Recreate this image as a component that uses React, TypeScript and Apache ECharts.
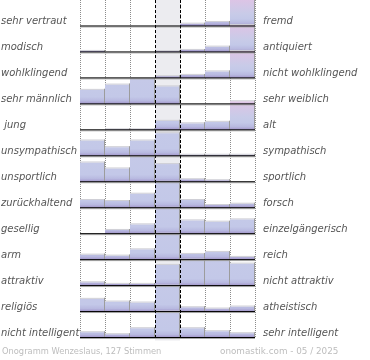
import React, { useEffect, useRef } from "react";
import * as echarts from "echarts";

// ---- data ----
const leftLabels = [
  "sehr vertraut", "modisch", "wohlklingend", "sehr männlich", " jung",
  "unsympathisch", "unsportlich", "zurückhaltend", "gesellig", "arm",
  "attraktiv", "religiös", "nicht intelligent",
];
const rightLabels = [
  "fremd", "antiquiert", "nicht wohlklingend", "sehr weiblich", "alt",
  "sympathisch", "sportlich", "forsch", "einzelgängerisch", "reich",
  "nicht attraktiv", "atheistisch", "sehr intelligent",
];
// seven-step scale, share of votes per step (row band = 26)
const vertrautFremd = [0, 0, 0, 0, 2.3, 4, 27];
const modischAntiquiert = [1, 0, 0, 0.8, 2, 5.3, 27];
const wohlklingend = [0, 0, 0, 1.7, 3, 6.5, 27];
const maennlichWeiblich = [14, 19.3, 25, 17.5, 0, 0, 0];
const jungAlt = [0, 0.5, 0.5, 9, 6.5, 8, 28.6];
const sympathie = [15.3, 8.6, 15.3, 22.6, 1, 1, 1];
const sportlichkeit = [19.3, 13.3, 25, 17.7, 2.5, 1.5, 0];
const zurueckhaltendForsch = [7.7, 6.7, 14, 26, 7.7, 2.7, 4];
const geselligEinzel = [0, 3.7, 9.3, 26, 13.3, 12, 14.3];
const armReich = [5, 4, 10.3, 26, 5.7, 7.7, 2.7];
const attraktivitaet = [3.3, 1.7, 1.7, 20.7, 26, 25, 22];
const religioesAtheistisch = [12.7, 10, 9, 26, 4.3, 3, 5];
const intelligenz = [5.3, 3.3, 9.3, 26, 9.3, 6.3, 4.3];
const footerLeft = "Onogramm Wenzeslaus, 127 Stimmen";
const footerRight = "onomastik.com - 05 / 2025";

const rows = [
  vertrautFremd, modischAntiquiert, wohlklingend, maennlichWeiblich, jungAlt,
  sympathie, sportlichkeit, zurueckhaltendForsch, geselligEinzel, armReich,
  attraktivitaet, religioesAtheistisch, intelligenz,
];
const ROW_UNIT = 26;
const STEPS = 7;

function hexToRgb(h: string) {
  const n = parseInt(h.slice(1), 16);
  return [(n >> 16) & 255, (n >> 8) & 255, n & 255];
}
function lerp(a: string, b: string, t: number) {
  const A = hexToRgb(a), B = hexToRgb(b);
  const c = A.map((v, i) => Math.round(v + (B[i] - v) * t));
  return "#" + c.map((v) => v.toString(16).padStart(2, "0")).join("");
}
function colorAt(stops: [number, string][], d: number) {
  if (d <= stops[0][0]) return stops[0][1];
  for (let i = 1; i < stops.length; i++) {
    if (d <= stops[i][0]) {
      const [d0, c0] = stops[i - 1];
      const [d1, c1] = stops[i];
      return lerp(c0, c1, (d - d0) / (d1 - d0 || 1));
    }
  }
  return stops[stops.length - 1][1];
}
function barGradient(h: number, tall: boolean) {
  const base: [number, string][] = [
    [0, "#a093c8"],
    [3, "#b8b9e0"],
    [7, "#c3c8e8"],
  ];
  const stops: [number, string][] = tall
    ? [...base, [h * 0.45, "#c8cbe8"], [h, "#dec4e5"]]
    : [...base, [60, "#c8cce9"]];
  const out: { offset: number; color: string }[] = [];
  out.push({ offset: 0, color: colorAt(stops, h) });
  stops
    .filter((s) => s[0] < h)
    .forEach((s) => out.push({ offset: 1 - s[0] / h, color: colorAt(stops, s[0]) }));
  out.sort((a, b) => a.offset - b.offset);
  return new echarts.graphic.LinearGradient(0, 0, 0, 1, out);
}

export default function App() {
  const ref = useRef<HTMLDivElement>(null);
  useEffect(() => {
    if (!ref.current) return;
    const chart = echarts.init(ref.current, undefined, { renderer: "svg" });
    const barData: number[][] = [];
    rows.forEach((vals, r) => vals.forEach((v, c) => barData.push([c, r, v])));
    const font = "DejaVu Sans";
    chart.setOption({
      animation: false,
      grid: { left: 80, top: -0.5, width: 175, height: 338 },
      xAxis: {
        type: "value", min: 0, max: STEPS, interval: 1,
        axisLine: { show: false }, axisTick: { show: false }, axisLabel: { show: false },
        splitLine: { show: true, lineStyle: { color: "#8c8c8c", type: [1, 1], width: 1 } },
      },
      yAxis: {
        type: "value", min: 0, max: rows.length, inverse: true,
        axisLine: { show: false }, axisTick: { show: false }, axisLabel: { show: false },
        splitLine: { show: false },
      },
      series: [
        {
          type: "custom", z: 1, silent: true,
          data: [[3, 0]],
          renderItem: (p: any, api: any) => {
            const a = api.coord([api.value(0), 0]);
            const b = api.coord([api.value(0) + 1, rows.length]);
            return {
              type: "rect",
              shape: { x: a[0], y: 0, width: b[0] - a[0], height: b[1] + 3 },
              style: { fill: "#ececf0" },
            };
          },
        },
        {
          type: "custom", z: 2, silent: true,
          data: barData,
          renderItem: (p: any, api: any) => {
            const c = api.value(0), r = api.value(1), v = api.value(2);
            if (!(v > 0)) return null;
            const p0 = api.coord([c, r + 1]);
            const p1 = api.coord([c + 1, r + 1 - v / ROW_UNIT]);
            const x = p0[0], y = p1[1], w = p1[0] - p0[0], h = p0[1] - p1[1];
            return {
              type: "group",
              children: [
                { type: "rect", shape: { x, y, width: w, height: h }, style: { fill: barGradient(h, v > ROW_UNIT + 0.5) } },
                { type: "rect", shape: { x, y: y - 1, width: w, height: 1 }, style: { fill: "#cfcfd6" } },
                { type: "rect", shape: { x: x + w - 1, y: y - 1, width: 1, height: h + 1 }, style: { fill: "#9c9c9c" } },
              ],
            };
          },
        },
        {
          type: "custom", z: 3, silent: true,
          data: rows.map((_, i) => [0, i]),
          renderItem: (p: any, api: any) => {
            const r = api.value(1);
            const a = api.coord([0, r + 1]);
            const b = api.coord([STEPS, r + 1]);
            const ty = a[1] - 5;
            return {
              type: "group",
              children: [
                { type: "line", shape: { x1: a[0], y1: a[1] + 1, x2: b[0], y2: b[1] + 1 }, style: { stroke: "#a8a8a8", lineWidth: 1 } },
                { type: "line", shape: { x1: a[0], y1: a[1], x2: b[0], y2: b[1] }, style: { stroke: "#000", lineWidth: 1 } },
                {
                  type: "text", x: 1, y: ty,
                  style: { text: leftLabels[r], fill: "#555", font: `italic 10px "${font}"`, verticalAlign: "middle", align: "left" },
                },
                {
                  type: "text", x: b[0] + 8, y: ty,
                  style: { text: rightLabels[r], fill: "#555", font: `italic 10px "${font}"`, verticalAlign: "middle", align: "left" },
                },
              ],
            };
          },
          markLine: {
            silent: true, symbol: "none", label: { show: false },
            lineStyle: { color: "#000", type: [3, 2], width: 1 },
            data: [{ xAxis: 3 }, { xAxis: 4 }],
          },
        },
      ],
      graphic: [
        {
          type: "text", left: 2, top: 347,
          style: { text: footerLeft, fill: "#bdbdbd", font: `8.3px "${font}"` },
        },
        {
          type: "text", left: 220, top: 346.5,
          style: { text: footerRight, fill: "#bdbdbd", font: `8.8px "${font}"` },
        },
      ],
    });
    return () => chart.dispose();
  }, []);
  return <div ref={ref} style={{ position: "fixed", left: 0, top: 0, width: 370, height: 360 }} />;
}
